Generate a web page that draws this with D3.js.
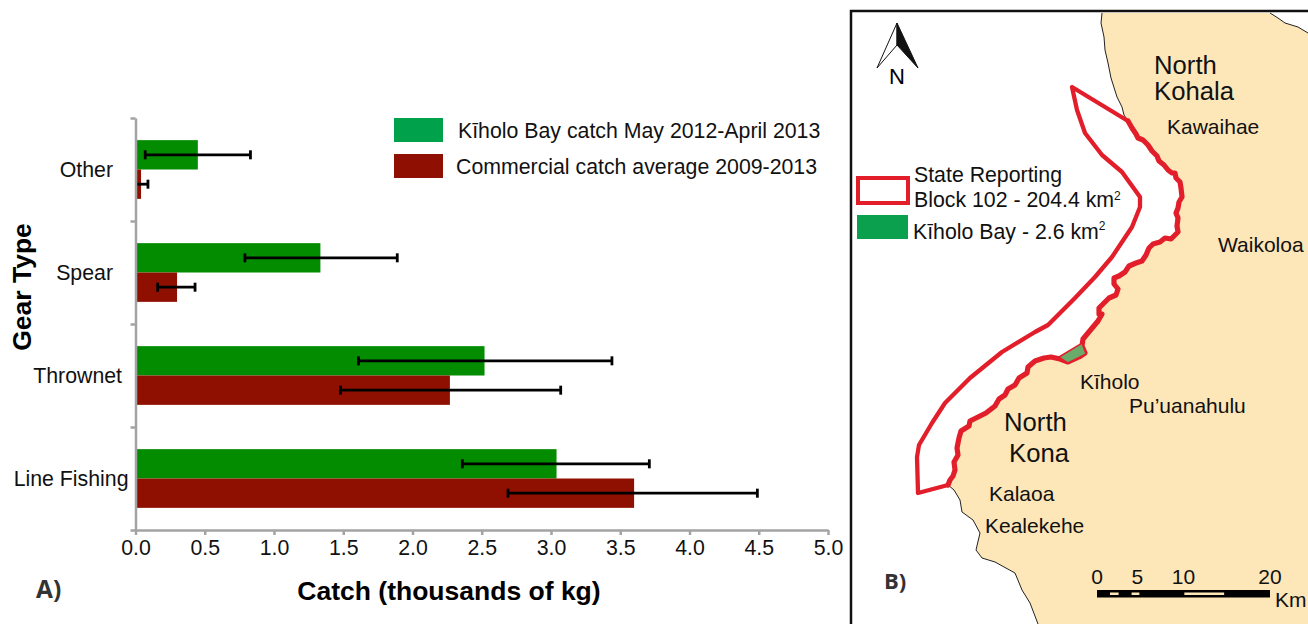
<!DOCTYPE html>
<html>
<head>
<meta charset="utf-8">
<style>
    body { margin: 0; background: white; }
    svg { display: block; font-family: "Liberation Sans", Arial, sans-serif; color: black; }
    .axis .domain { stroke: #a3a3a3; stroke-width: 2.5; }
    .axis .tick line { stroke: #a3a3a3; stroke-width: 2.5; }
    .axis text { font-size: 21.3px; fill: #111; font-family: "Liberation Sans", Arial, sans-serif; }
</style>
</head>
<body>
<script src="https://d3js.org/d3.v7.min.js"></script>
<script>
// chart values, top to bottom (thousands of kg)
let gear = ["Other", "Spear", "Thrownet", "Line Fishing"]
let kiholo = [0.45, 1.335, 2.52, 3.04]
let kiholoLow = [0.07, 0.79, 1.61, 2.36]
let kiholoHigh = [0.83, 1.89, 3.44, 3.71]
let commercial = [0.04, 0.30, 2.27, 3.60]
let commercialLow = [0, 0.16, 1.48, 2.69]
let commercialHigh = [0.09, 0.43, 3.07, 4.49]
let xTicks = [0, 0.5, 1, 1.5, 2, 2.5, 3, 3.5, 4, 4.5, 5]
let seriesNames = ["Kīholo Bay catch May 2012-April 2013", "Commercial catch average 2009-2013"]

// map outlines, as [x, y] in map units (frame corner = 0,0)
let coastNorth = [[251,3],[250,13],[253,27],[254,40],[257,53],[260,68],[266,87],[271,97],[273,105],[277,111]]
let coastBlock = [[277,111],[281,118],[285,124],[287,128],[292,130],[297,135],[301,141],[306,146],[308,151],[313,155],[317,160],[321,163],[324,163],[325,168],[329,172],[330,178],[331,187],[328,192],[327,198],[325,203],[327,208],[326,216],[327,222],[323,226],[320,229],[314,228],[309,232],[302,234],[298,238],[295,245],[291,251],[285,253],[278,256],[274,262],[268,266],[263,268],[263,274],[267,279],[265,285],[258,288],[253,293],[248,298],[248,304],[251,304],[247,311],[242,317],[237,323],[232,329],[231,336],[234,343],[228,347],[217,352],[209,349],[200,347],[193,348],[184,351],[177,357],[176,363],[168,368],[164,375],[157,379],[154,385],[148,389],[144,396],[135,403],[127,407],[119,411],[118,416],[110,421],[108,428],[106,438],[107,445],[103,452],[104,460],[102,466],[99,470],[97,475]]
let coastSouth = [[97,475],[103,480],[109,490],[111,502],[122,510],[129,523],[125,540],[131,548],[144,552],[164,563],[171,580],[179,593],[187,614]]
let notch = [[419,3],[427,8],[434,13],[447,17],[457,23]]
let blockOuter = [[97,475],[67,483],[66,447],[68,435],[81,413],[94,393],[119,368],[151,342],[184,322],[197,315],[212,300],[224,288],[244,267],[261,247],[281,217],[289,197],[289,187],[271,162],[251,145],[234,123],[226,100],[221,77],[277,111]]
let bay = [[208,347],[231,333],[235,344],[217,353]]
let compassWhite = [[46,13],[26,58],[46,35]]
let compassBlack = [[46,13],[67,58],[46,35]]

// scale bar, km
let barTicks = [0, 5, 10, 20]
let barBlanks = [[1.5, 2.5], [4, 4.9], [10.1, 14.7]]

// map place names
let placeNames = ["Kawaihae", "Waikoloa", "Kīholo", "Pu’uanahulu", "Kalaoa", "Kealekehe"]
let placeSpots = [[316,124],[367,242],[229,379],[278,403],[138,491],[134,523]]

let width = 1308
let height = 624
let margin = {top: 118, right: 480, bottom: 94, left: 135.5}

let svg = d3.select("body").append("svg")
    .attr("width", width)
    .attr("height", height)

// ---- panel A ----
let x = d3.scaleLinear()
    .domain([0, 5])
    .range([margin.left, width - margin.right])

let y = d3.scaleBand()
    .domain(gear)
    .range([margin.top, height - margin.bottom])
    .paddingInner(.43)
    .paddingOuter(.215)

let sub = d3.scaleBand()
    .domain([0, 1])
    .range([0, y.bandwidth()])

// tick marks sit between the categories
let yEdges = d3.scaleLinear()
    .domain([0, gear.length])
    .range([margin.top, height - margin.bottom])

let labelRight = {"Other": 113, "Spear": 113, "Thrownet": 122, "Line Fishing": 128.5}
svg.append("g")
    .selectAll("text")
    .data(gear)
    .join("text")
    .attr("x", d => labelRight[d])
    .attr("y", d => y(d) + y.bandwidth() / 2)
    .attr("dy", ".35em")
    .attr("text-anchor", "end")
    .style("font-size", "21.3px")
    .style("fill", "#111")
    .text(d => d)

let rows = gear.map((g, i) => ([
    {g: g, s: 0, v: kiholo[i], lo: kiholoLow[i], hi: kiholoHigh[i]},
    {g: g, s: 1, v: commercial[i], lo: commercialLow[i], hi: commercialHigh[i]}
])).flat()

let colors = ["#038c00", "#8f1000"]
let swatches = ["#00a14b", "#8f0f03"]

svg.append("g")
    .selectAll("rect")
    .data(rows)
    .join("rect")
    .attr("x", x(0))
    .attr("y", d => y(d.g) + sub(d.s))
    .attr("width", d => x(d.v) - x(0))
    .attr("height", sub.bandwidth())
    .style("fill", d => colors[d.s])

let errs = svg.append("g")
    .selectAll("g")
    .data(rows)
    .join("g")
    .attr("transform", d => `translate(0, ${y(d.g) + sub(d.s) + sub.bandwidth() / 2})`)
    .style("stroke", "black")
    .style("stroke-width", 2.8)

errs.append("line").attr("x1", d => x(d.lo)).attr("x2", d => x(d.hi))
errs.append("line").attr("x1", d => x(d.lo)).attr("x2", d => x(d.lo)).attr("y1", -4.5).attr("y2", 4.5)
    .style("display", d => d.lo == 0 ? "none" : null)
errs.append("line").attr("x1", d => x(d.hi)).attr("x2", d => x(d.hi)).attr("y1", -4.5).attr("y2", 4.5)

// axes go over the bars
svg.append("g")
    .attr("class", "axis")
    .attr("transform", `translate(0, ${height - margin.bottom})`)
    .call(d3.axisBottom(x).tickValues(xTicks).tickFormat(d3.format(".1f")).tickSize(5).tickSizeOuter(0))
    .selectAll("text").attr("y", 10)

svg.append("g")
    .attr("class", "axis")
    .attr("transform", `translate(${margin.left}, 0)`)
    .call(d3.axisLeft(yEdges).tickValues(d3.range(gear.length + 1)).tickFormat("").tickSize(5).tickSizeOuter(0))

// legend
let legendY = [118, 154]
let legendText = [458, 456]
seriesNames.forEach((name, i) => {
    svg.append("rect")
        .attr("x", 394).attr("y", legendY[i])
        .attr("width", 49).attr("height", 24)
        .style("fill", swatches[i])
    svg.append("text")
        .attr("x", legendText[i]).attr("y", legendY[i] + 20)
        .style("font-size", "21.3px")
        .style("fill", "#111")
        .text(name)
})

svg.append("text")
    .attr("x", 449).attr("y", 600)
    .attr("text-anchor", "middle")
    .style("font-size", "26.5px").style("font-weight", "bold")
    .text("Catch (thousands of kg)")

svg.append("text")
    .attr("transform", "translate(31, 287) rotate(-90)")
    .attr("text-anchor", "middle")
    .style("font-size", "26.5px").style("font-weight", "bold")
    .text("Gear Type")

svg.append("text")
    .attr("x", 36).attr("y", 598)
    .style("font-family", "'Open Sans'").style("font-size", "24.5px").style("font-weight", "bold").style("fill", "#333")
    .text("A)")

// ---- panel B ----
let mx = d3.scaleLinear().domain([0, 457]).range([851, 1308])
let my = d3.scaleLinear().domain([0, 614]).range([10, 624])
let path = d3.line().x(d => mx(d[0])).y(d => my(d[1]))

let land = coastNorth.concat(coastBlock, coastSouth, [[457,614]], notch.slice().reverse())
svg.append("path")
    .attr("d", path(land))
    .style("fill", "#fde6b8")

svg.append("path").attr("d", path(coastNorth)).style("fill", "none").style("stroke", "#222").style("stroke-width", 1)
svg.append("path").attr("d", path(coastSouth)).style("fill", "none").style("stroke", "#222").style("stroke-width", 1)
svg.append("path").attr("d", path(notch)).style("fill", "none").style("stroke", "#222").style("stroke-width", 1)

svg.append("path")
    .attr("d", path(blockOuter))
    .style("fill", "none")
    .style("stroke", "#e31e2b")
    .style("stroke-width", 4.3)
    .style("stroke-linejoin", "round")
    .style("stroke-linecap", "round")

svg.append("path")
    .attr("d", path(coastBlock))
    .style("fill", "none")
    .style("stroke", "#e31e2b")
    .style("stroke-width", 5.2)
    .style("stroke-linejoin", "round")
    .style("stroke-linecap", "round")

// bay sits on top, the block line is thin around it
svg.append("path")
    .attr("d", path(bay) + "Z")
    .style("fill", "#6aaa6a")
    .style("stroke", "#e31e2b")
    .style("stroke-width", 1.5)

// frame, open at the right and bottom
svg.append("path")
    .attr("d", path([[0,614],[0,1],[457,1]]))
    .style("fill", "none").style("stroke", "#111").style("stroke-width", 2.5)

// north arrow
svg.append("path").attr("d", path(compassWhite) + "Z").style("fill", "white").style("stroke", "#111").style("stroke-width", 1)
svg.append("path").attr("d", path(compassBlack) + "Z").style("fill", "#111").style("stroke", "#111").style("stroke-width", 1)
svg.append("text").attr("x", mx(46)).attr("y", my(74)).attr("text-anchor", "middle").style("font-size", "22px").text("N")

// map legend
svg.append("rect").attr("x", mx(7)).attr("y", my(168)).attr("width", 50).attr("height", 25)
    .style("fill", "white").style("stroke", "#e31e2b").style("stroke-width", 4)
svg.append("rect").attr("x", mx(6)).attr("y", my(205)).attr("width", 51).attr("height", 24)
    .style("fill", "#0aa04d")

let mapLegend = svg.append("g").style("font-size", "21.3px").style("fill", "#111")
mapLegend.append("text").attr("x", mx(63)).attr("y", my(172)).text("State Reporting")
let blockText = mapLegend.append("text").attr("x", mx(63)).attr("y", my(197))
blockText.append("tspan").text("Block 102 - 204.4 km")
blockText.append("tspan").attr("dy", -7).style("font-size", "12px").text("2")
let bayText = mapLegend.append("text").attr("x", mx(62)).attr("y", my(229))
bayText.append("tspan").text("Kīholo Bay - 2.6 km")
bayText.append("tspan").attr("dy", -9).style("font-size", "12px").text("2")

// place names
let regions = svg.append("g").style("font-size", "25.7px").style("fill", "#111")
regions.append("text").attr("x", mx(303)).attr("y", my(64)).text("North")
regions.append("text").attr("x", mx(303)).attr("y", my(90)).text("Kohala")
regions.append("text").attr("x", mx(153)).attr("y", my(420.7)).text("North")
regions.append("text").attr("x", mx(158)).attr("y", my(452)).text("Kona")

svg.append("g")
    .selectAll("text")
    .data(placeNames)
    .join("text")
    .attr("x", (d, i) => mx(placeSpots[i][0]))
    .attr("y", (d, i) => my(placeSpots[i][1]))
    .style("font-size", "21px")
    .style("fill", "#111")
    .text(d => d)

svg.append("text")
    .attr("x", mx(33)).attr("y", my(579))
    .style("font-family", "'Open Sans'").style("font-size", "22px").style("font-weight", "bold").style("fill", "#333")
    .text("B)")

// scale bar
let km = d3.scaleLinear().domain([0, 20]).range([1097, 1270])
svg.append("rect").attr("x", km(0)).attr("y", 590).attr("width", km(20) - km(0)).attr("height", 7.5).style("fill", "black")
svg.append("g")
    .selectAll("rect")
    .data(barBlanks)
    .join("rect")
    .attr("x", d => km(d[0]))
    .attr("y", 592.5)
    .attr("width", d => km(d[1]) - km(d[0]))
    .attr("height", 2.5)
    .style("fill", "#fde6b8")
svg.append("g")
    .selectAll("text")
    .data(barTicks)
    .join("text")
    .attr("x", d => km(d) - (d == 5 ? 3 : 0))
    .attr("y", 584)
    .attr("text-anchor", "middle")
    .style("font-size", "21px")
    .style("fill", "#111")
    .text(d => d)
svg.append("text").attr("x", 1275).attr("y", 607).style("font-size", "21px").style("fill", "#111").text("Km")
</script>
</body>
</html>
